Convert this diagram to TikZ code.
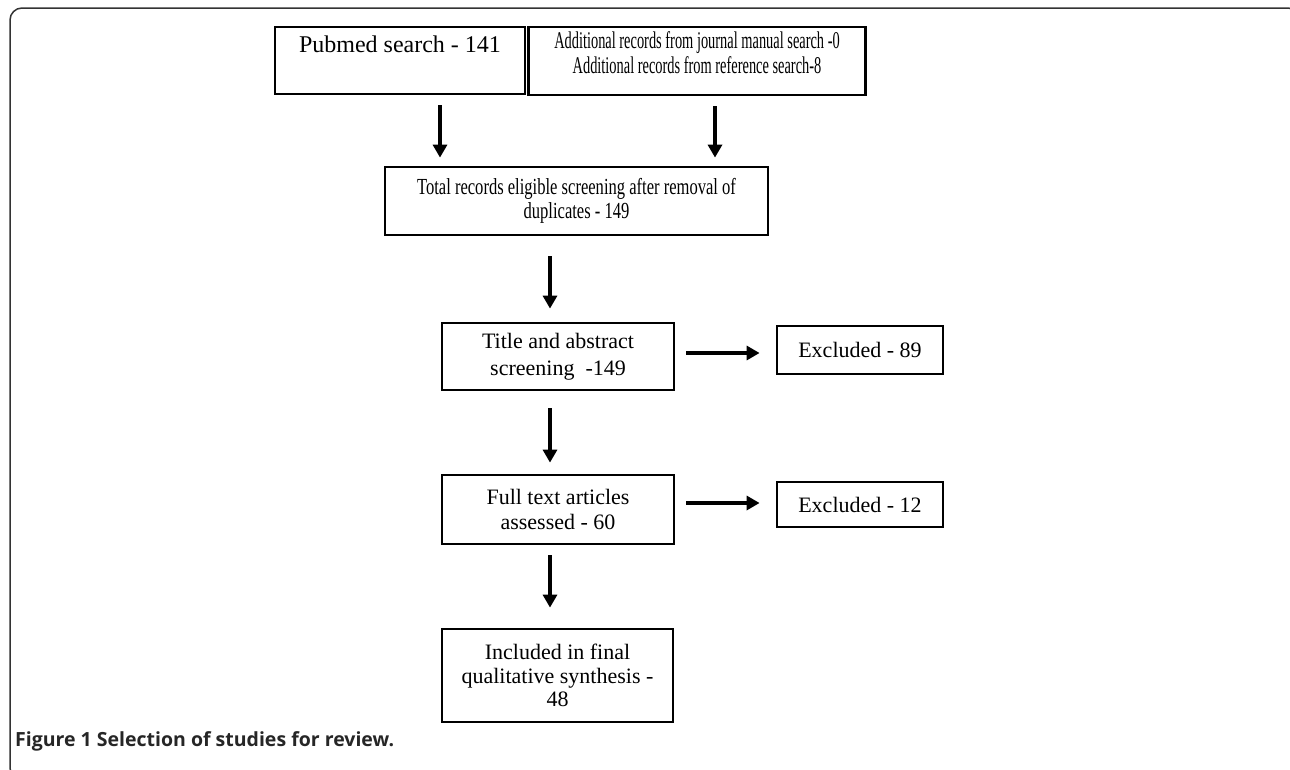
\documentclass[tikz,border=0pt]{standalone}
\usepackage{fontspec}
\setmainfont{Liberation Serif}
\newfontfamily\capfont{Open Sans}
\newfontfamily\narrowA[FakeStretch=0.6]{Liberation Serif}
\newfontfamily\narrowB[FakeStretch=0.72]{Liberation Serif}
\usetikzlibrary{arrows.meta}
\begin{document}
\begin{tikzpicture}[x=1pt,y=-1pt,
  box/.style={draw, line width=2.8pt, align=center, inner sep=0pt, font=\fontsize{22}{26}\selectfont},
  arr/.style={line width=3.2pt, -{Triangle[length=13pt,width=14pt]}},
  frame/.style={line width=1.5pt, draw=black!80, rounded corners=12pt},
  captext/.style={anchor=base west, inner sep=0pt, font=\capfont\bfseries\fontsize{19.5}{21}\selectfont, text=black!85}
]
\useasboundingbox (0,0) rectangle (1290,769);
\draw[frame] (1300,30) -- (1300,8) -- (10,8) -- (10,780) -- (40,780);

\node[box, minimum width=250pt, minimum height=67pt, font=\fontsize{24}{25}\selectfont] (pub) at (400,60.5) {Pubmed search - 141\\\strut};
\node[box, minimum width=337pt, minimum height=68pt, font=\narrowA\fontsize{24}{25}\selectfont] (add) at (697,61) {Additional records from journal manual search -0\\Additional records from reference search-8\\[-9pt]\mbox{}};
\node[box, minimum width=383pt, minimum height=68pt, font=\narrowB\fontsize{23}{24}\selectfont] (tot) at (576.5,201) {Total records eligible screening after removal of\\duplicates - 149};
\node[box, minimum width=232pt, minimum height=67pt, font=\fontsize{22}{27}\selectfont] (title) at (558,356.5) {Title and abstract\\screening~~-149};
\node[box, minimum width=166pt, minimum height=48pt] (ex1) at (860,350) {Excluded - 89};
\node[box, minimum width=232pt, minimum height=69pt, font=\fontsize{22}{25}\selectfont] (full) at (558,509.5) {Full text articles\\assessed - 60};
\node[box, minimum width=166pt, minimum height=45pt] (ex2) at (860,504.5) {Excluded - 12};
\node[box, minimum width=231pt, minimum height=93pt, font=\fontsize{22}{23.5}\selectfont] (inc) at (557.5,675.5) {Included in final\\qualitative synthesis -\\48};

\coordinate (c1) at (440,0);
\coordinate (c2) at (715,0);
\coordinate (c3) at (550,0);
\coordinate (r1) at (0,353);
\coordinate (r2) at (0,503);

\draw[arr, shorten <=10pt, shorten >=8pt] (pub.south -| c1) -- (tot.north -| c1);
\draw[arr, shorten <=10pt, shorten >=8pt] (add.south -| c2) -- (tot.north -| c2);
\draw[arr, shorten <=20pt, shorten >=13pt] (tot.south -| c3) -- (title.north -| c3);
\draw[arr, shorten <=17pt, shorten >=11pt] (title.south -| c3) -- (full.north -| c3);
\draw[arr, shorten <=10pt, shorten >=20pt] (full.south -| c3) -- (inc.north -| c3);
\draw[arr, shorten <=11pt, shorten >=16pt] (title.east |- r1) -- (ex1.west |- r1);
\draw[arr, shorten <=11pt, shorten >=16pt] (full.east |- r2) -- (ex2.west |- r2);

\node[captext] (cap) at (15,746) {Figure 1 Selection of studies for review.};
\end{tikzpicture}
\end{document}
